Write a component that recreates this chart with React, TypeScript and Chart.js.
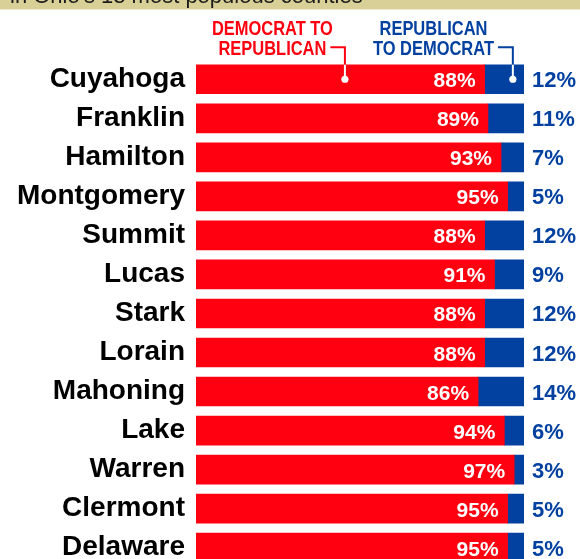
import React, { useEffect, useRef } from "react";
import { Chart, registerables } from "chart.js";

Chart.register(...registerables);

const counties = [
  "Cuyahoga",
  "Franklin",
  "Hamilton",
  "Montgomery",
  "Summit",
  "Lucas",
  "Stark",
  "Lorain",
  "Mahoning",
  "Lake",
  "Warren",
  "Clermont",
  "Delaware",
];
const demToRep = [88, 89, 93, 95, 88, 91, 88, 88, 86, 94, 97, 95, 95];
const repToDem = [12, 11, 7, 5, 12, 9, 12, 12, 14, 6, 3, 5, 5];
const headline = "in Ohio's 13 most populous counties";
const redLabel = ["DEMOCRAT TO", "REPUBLICAN"];
const blueLabel = ["REPUBLICAN", "TO DEMOCRAT"];

const RED = "#fe0010";
const BLUE = "#0341a0";
const BANNER = "#d9d097";
const FONT = "'Liberation Sans', Arial, Helvetica, sans-serif";

function drawCallout(
  chart: any,
  lines: string[],
  color: string,
  textCenterVal: number,
  dotVal: number
) {
  const ctx = chart.ctx;
  const xs = chart.scales.x;
  const bar = chart.getDatasetMeta(0).data[0] as any;
  const barTop = bar.y - bar.height / 2;
  const cx = xs.getPixelForValue(textCenterVal);
  const dotX = xs.getPixelForValue(dotVal);
  const dotY = bar.y;
  ctx.save();
  ctx.font = `bold 21px ${FONT}`;
  const sx = 121 / ctx.measureText("DEMOCRAT TO").width;
  const base1 = barTop - 30;
  const base2 = barTop - 10;
  ctx.fillStyle = color;
  ctx.textBaseline = "alphabetic";
  ctx.textAlign = "center";
  [base1, base2].forEach((b, i) => {
    ctx.save();
    ctx.translate(cx, b);
    ctx.scale(sx, 1);
    ctx.fillText(lines[i], 0, 0);
    ctx.restore();
  });
  const w2 = ctx.measureText(lines[1]).width * sx;
  const lineStart = cx + w2 / 2 + 4;
  const hy = base2 - 7.5;
  ctx.lineWidth = 2;
  ctx.strokeStyle = color;
  ctx.beginPath();
  ctx.moveTo(lineStart, hy);
  ctx.lineTo(dotX, hy);
  ctx.lineTo(dotX, barTop);
  ctx.stroke();
  ctx.strokeStyle = "#ffffff";
  ctx.beginPath();
  ctx.moveTo(dotX, barTop);
  ctx.lineTo(dotX, dotY);
  ctx.stroke();
  ctx.fillStyle = "#ffffff";
  ctx.beginPath();
  ctx.arc(dotX, dotY, 3.6, 0, Math.PI * 2);
  ctx.fill();
  ctx.restore();
}

const overlayPlugin = {
  id: "overlay",
  beforeDraw(chart: any) {
    const ctx = chart.ctx;
    ctx.save();
    ctx.fillStyle = "#ffffff";
    ctx.fillRect(0, 0, chart.width, chart.height);
    ctx.fillStyle = BANNER;
    ctx.fillRect(0, 0, chart.width, 9.5);
    ctx.fillStyle = "#1c1c1c";
    ctx.font = `22px ${FONT}`;
    ctx.textBaseline = "alphabetic";
    ctx.textAlign = "left";
    ctx.fillText(headline, 10, 2.5);
    ctx.restore();
  },
  afterDatasetsDraw(chart: any) {
    const ctx = chart.ctx;
    const m0 = chart.getDatasetMeta(0);
    const m1 = chart.getDatasetMeta(1);
    ctx.save();
    ctx.textBaseline = "alphabetic";
    ctx.font = `bold 21px ${FONT}`;
    ctx.fillStyle = "#ffffff";
    ctx.textAlign = "right";
    m0.data.forEach((bar: any, i: number) => {
      ctx.fillText(demToRep[i] + "%", bar.x - 9, bar.y + 8);
    });
    ctx.font = `bold 22px ${FONT}`;
    ctx.fillStyle = BLUE;
    ctx.textAlign = "left";
    m1.data.forEach((bar: any, i: number) => {
      ctx.fillText(repToDem[i] + "%", bar.x + 8, bar.y + 8);
    });
    ctx.restore();
    drawCallout(chart, redLabel, RED, 23.3, 45.4);
    drawCallout(chart, blueLabel, BLUE, 72.4, 96.6);
  },
};

export default function App() {
  const ref = useRef<HTMLCanvasElement | null>(null);
  useEffect(() => {
    if (!ref.current) return;
    const chart = new Chart(ref.current, {
      type: "bar",
      data: {
        labels: counties,
        datasets: [
          {
            label: "Democrat to Republican",
            data: demToRep,
            backgroundColor: RED,
            borderWidth: 0,
            barThickness: 29,
          },
          {
            label: "Republican to Democrat",
            data: repToDem,
            backgroundColor: BLUE,
            borderWidth: 0,
            barThickness: 29,
          },
        ],
      },
      options: {
        indexAxis: "y",
        responsive: false,
        animation: false,
        devicePixelRatio: 1,
        layout: { padding: { left: 0, right: 56, top: 59.75, bottom: 0 } },
        plugins: {
          legend: { display: false },
          tooltip: { enabled: false },
        },
        scales: {
          x: { stacked: true, min: 0, max: 100, display: false },
          y: {
            stacked: true,
            grid: { display: false, drawTicks: false },
            border: { display: false },
            ticks: {
              autoSkip: false,
              padding: 11,
              color: "#000000",
              font: { family: FONT, size: 28, weight: "bold" },
            },
            afterFit: (s: any) => {
              s.width = 196;
            },
          },
        },
      },
      plugins: [overlayPlugin],
    } as any);
    return () => chart.destroy();
  }, []);
  return (
    <div
      style={{
        position: "fixed",
        top: 0,
        left: 0,
        width: 580,
        height: 559,
        overflow: "hidden",
        background: "#ffffff",
      }}
    >
      <canvas ref={ref} width={580} height={595} style={{ display: "block" }} />
    </div>
  );
}
